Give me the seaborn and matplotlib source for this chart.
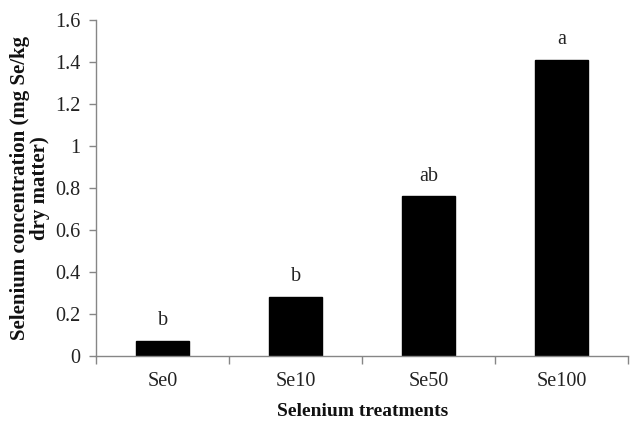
import matplotlib
matplotlib.use("Agg")
import matplotlib.pyplot as plt
import seaborn as sns
import pandas as pd
from matplotlib.ticker import FixedLocator

categories = ["Se0", "Se10", "Se50", "Se100"]
values = [0.07, 0.28, 0.76, 1.41]
letters = ["b", "b", "ab", "a"]
yticks = [0, 0.2, 0.4, 0.6, 0.8, 1, 1.2, 1.4, 1.6]
ytick_labels = ["0", "0.2", "0.4", "0.6", "0.8", "1", "1.2", "1.4", "1.6"]

sns.set_theme(style="white")
plt.rcParams["font.family"] = ["Liberation Serif", "DejaVu Serif"]

df = pd.DataFrame({"treatment": categories, "conc": values})

fig = plt.figure(figsize=(6.3, 4.22), dpi=100)
ax = fig.add_axes([0.1524, 0.157, 0.845, 0.7956])

sns.barplot(data=df, x="treatment", y="conc", color="black", width=0.4,
            saturation=1, ax=ax, edgecolor="black")

ax.set_ylim(0, 1.6)
ax.set_xlim(-0.5, len(categories) - 0.5)
ax.set_yticks(yticks)
ax.set_yticklabels(ytick_labels)

for i, (v, t) in enumerate(zip(values, letters)):
    ax.text(i, v + 0.075, t, ha="center", va="baseline", fontsize=14.5,
            color="#222222")

for s in ["top", "right"]:
    ax.spines[s].set_visible(False)
for s in ["left", "bottom"]:
    ax.spines[s].set_color("#868686")
    ax.spines[s].set_linewidth(1.0)

ax.tick_params(axis="y", which="major", left=True, length=5, width=1,
               color="#868686", labelsize=14.5, labelcolor="#222222", pad=6)
ax.tick_params(axis="x", which="major", bottom=False, length=0,
               labelsize=14.5, labelcolor="#222222", pad=12)
ax.xaxis.set_minor_locator(FixedLocator([i - 0.5 for i in range(len(categories) + 1)]))
ax.tick_params(axis="x", which="minor", bottom=True, length=6, width=1,
               color="#868686")

ax.set_xlabel("Selenium treatments", fontsize=14, fontweight="bold",
              color="#111111", labelpad=8)
ax.set_ylabel("Selenium concentration (mg Se/kg\ndry matter)", fontsize=15,
              fontweight="bold", color="#111111", labelpad=4, linespacing=1.0)

fig.savefig("out.png", dpi=100)
